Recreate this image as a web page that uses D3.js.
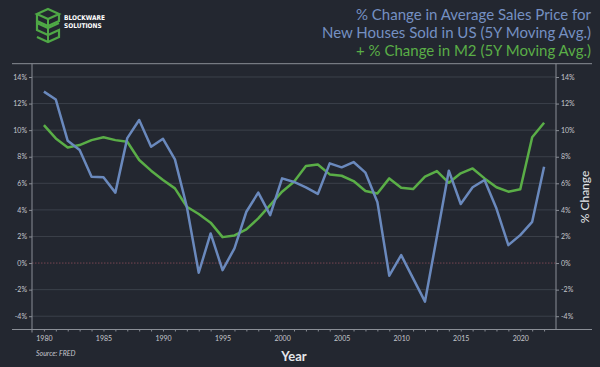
<!DOCTYPE html>
<html><head><meta charset="utf-8">
<script src="https://cdn.jsdelivr.net/npm/d3@7"></script>
<style>
html,body{margin:0;padding:0;background:#232730;}
svg{display:block;}
</style></head>
<body>
<script>
const years = d3.range(1980, 2023);
const houseChange = [12.9, 12.3, 9.2, 8.5, 6.5, 6.45, 5.3, 9.4, 10.76, 8.75,
  9.35, 7.8, 4.24, -0.73, 2.23, -0.53, 1.1, 3.86, 5.3, 3.6,
  6.37, 6.1, 5.7, 5.2, 7.5, 7.2, 7.6, 6.8, 4.6, -0.95,
  0.6, -1.15, -2.9, 2.0, 6.95, 4.44, 5.7, 6.25, 4.1, 1.35,
  2.1, 3.1, 7.25];
const m2Change = [10.38, 9.38, 8.7, 8.88, 9.25, 9.46, 9.25, 9.13, 7.75, 6.95,
  6.25, 5.62, 4.24, 3.69, 3.04, 1.95, 2.08, 2.53, 3.36, 4.36,
  5.37, 6.12, 7.3, 7.42, 6.67, 6.57, 6.17, 5.42, 5.24, 6.37,
  5.67, 5.57, 6.5, 6.92, 6.04, 6.75, 7.12, 6.37, 5.7, 5.37,
  5.55, 9.46, 10.56];
const yTicks = [-4, -2, 0, 2, 4, 6, 8, 10, 12, 14];
const xTicks = [1980, 1985, 1990, 1995, 2000, 2005, 2010, 2015, 2020];
const titleLines = ["% Change in Average Sales Price for", "New Houses Sold in US (5Y Moving Avg.)"];
const titleLine3 = "+ % Change in M2 (5Y Moving Avg.)";

const W = 600, H = 367;
const BG = "#232730", BLUE = "#6a89bd", GREEN = "#5aae47", GRID = "#3b404a", AXIS = "#8a8e96", TXT = "#c3c6cc";
const svg = d3.select("body").append("svg").attr("width", W).attr("height", H);
svg.append("rect").attr("width", W).attr("height", H).attr("fill", BG);

const x = d3.scaleLinear().domain([1979, 2023]).range([32, 556]);
const y = d3.scaleLinear().domain([-5, 15]).range([329.5, 63.7]);

// grid
svg.append("g").selectAll("line").data(yTicks.filter(d => d !== 0)).join("line")
  .attr("x1", 32).attr("x2", 556).attr("y1", d => y(d)).attr("y2", d => y(d))
  .attr("stroke", GRID).attr("stroke-width", 1);
svg.append("line").attr("x1", 32).attr("x2", 556).attr("y1", y(0)).attr("y2", y(0))
  .attr("stroke", "#8c4b5a").attr("stroke-width", 0.8).attr("stroke-dasharray", "1.5,1.5");

// frame lines
svg.append("line").attr("x1", 12).attr("x2", 592).attr("y1", y(15)).attr("y2", y(15)).attr("stroke", AXIS).attr("stroke-width", 1);
svg.append("line").attr("x1", 12).attr("x2", 592).attr("y1", y(-5)).attr("y2", y(-5)).attr("stroke", AXIS).attr("stroke-width", 1);

// left axis
const yl = svg.append("g").attr("transform", "translate(32,0)")
  .call(d3.axisLeft(y).tickValues(yTicks).tickSize(3).tickPadding(2).tickFormat(d => d + "%"));
yl.select(".domain").attr("stroke", AXIS).attr("d", `M0,${y(15)}V${y(-5)+3}`);
// right axis
const yr = svg.append("g").attr("transform", "translate(556,0)")
  .call(d3.axisRight(y).tickValues(yTicks).tickSize(3).tickPadding(2).tickFormat(d => d + "%"));
yr.select(".domain").attr("stroke", AXIS).attr("d", `M0,${y(15)}V${y(-5)}`);
[yl, yr].forEach(g => {
  g.selectAll(".tick line").attr("stroke", AXIS);
  g.selectAll(".tick text").attr("fill", TXT).attr("font-family", "Lato, 'Open Sans', sans-serif").attr("font-size", 7);
});

// x axis
const xa = svg.append("g").attr("transform", `translate(0,${y(-5)})`)
  .call(d3.axisBottom(x).tickValues(years).tickSize(2).tickFormat(d => xTicks.includes(d) ? d : ""));
xa.select(".domain").remove();
xa.selectAll(".tick line").attr("stroke", AXIS);
xa.selectAll(".tick text").attr("fill", TXT).attr("font-family", "Lato, 'Open Sans', sans-serif").attr("font-size", 7).attr("dy", "0.9em");

// lines
const line = d3.line().x((d, i) => x(years[i])).y(d => y(d));
svg.append("path").datum(m2Change).attr("d", line).attr("fill", "none").attr("stroke", GREEN).attr("stroke-width", 2.5).attr("stroke-linejoin", "round");
svg.append("path").datum(houseChange).attr("d", line).attr("fill", "none").attr("stroke", BLUE).attr("stroke-width", 2.5).attr("stroke-linejoin", "round");

// title
const tf = "Lato, 'Open Sans', sans-serif";
titleLines.forEach((t, i) => {
  svg.append("text").attr("x", 591).attr("y", 20 + i * 18).attr("text-anchor", "end")
    .attr("font-family", tf).attr("font-size", 15).attr("fill", "#7590c2").text(t);
});
svg.append("text").attr("x", 591).attr("y", 56).attr("text-anchor", "end")
  .attr("font-family", tf).attr("font-size", 15).attr("fill", GREEN).text(titleLine3);

// axis titles
svg.append("text").attr("x", 294).attr("y", 361).attr("text-anchor", "middle")
  .attr("font-family", tf).attr("font-weight", "bold").attr("font-size", 13).attr("fill", "#e4e6ea").text("Year");
svg.append("text").attr("transform", "translate(589,197) rotate(-90)").attr("text-anchor", "middle")
  .attr("font-family", tf).attr("font-size", 12).attr("fill", "#e4e6ea").text("% Change");
svg.append("text").attr("x", 36).attr("y", 356).attr("font-family", tf).attr("font-style", "italic")
  .attr("font-size", 7).attr("fill", TXT).text("Source: FRED");

// logo
const lg = svg.append("g").attr("transform", "translate(37,9)");
const lc = "#4fa846";
lg.append("path").attr("d", "M11,0 L22,5 L11,10 L0,5 Z").attr("fill", "none").attr("stroke", lc).attr("stroke-width", 2.2);
lg.append("path").attr("d", "M0,5 L0,12 L11,17 L22,12 L22,5").attr("fill", "none").attr("stroke", lc).attr("stroke-width", 2.2);
lg.append("path").attr("d", "M22,14 L11,19 L0,14 L0,21 L11,26 L22,21 L22,28 L11,33 L0,28").attr("fill", "none").attr("stroke", lc).attr("stroke-width", 2.2);
lg.append("line").attr("x1", 11).attr("x2", 11).attr("y1", 10).attr("y2", 33).attr("stroke", lc).attr("stroke-width", 2);
svg.append("text").attr("x", 64).attr("y", 20).attr("font-family", "'DejaVu Sans Condensed', 'Liberation Sans Narrow', sans-serif")
  .attr("font-weight", "bold").attr("font-size", 6.5).attr("fill", "#ffffff").text("BLOCKWARE");
svg.append("text").attr("x", 64).attr("y", 28).attr("font-family", "'DejaVu Sans Condensed', 'Liberation Sans Narrow', sans-serif")
  .attr("font-weight", "bold").attr("font-size", 6.5).attr("fill", "#ffffff").text("SOLUTIONS");
</script>
</body></html>
